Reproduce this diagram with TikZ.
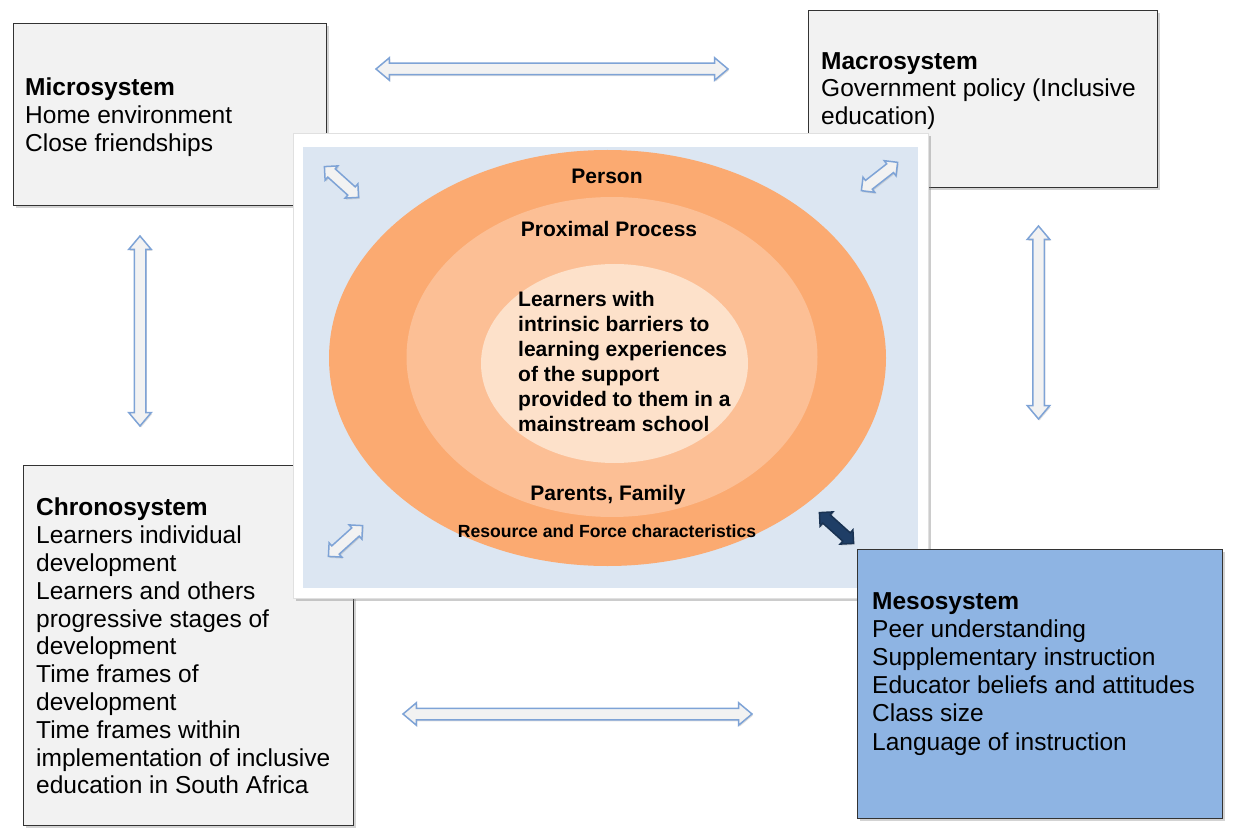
\documentclass[tikz,border=0pt]{standalone}
\usepackage{fontspec}
\setmainfont{Liberation Sans}
\usetikzlibrary{shapes.arrows,shapes.geometric,shadows}
\definecolor{boxgray}{HTML}{F2F2F2}
\definecolor{mesoblue}{HTML}{8EB4E3}
\definecolor{bgblue}{HTML}{DCE6F2}
\definecolor{orA}{HTML}{FBAA71}
\definecolor{orB}{HTML}{FCBF95}
\definecolor{orC}{HTML}{FDE1CA}
\definecolor{arrline}{HTML}{7EA3D6}
\definecolor{navy}{HTML}{1F3E66}
\begin{document}
\begin{tikzpicture}[x=1pt,y=-1pt,
  sysbox/.style={draw=black!80, line width=1.2pt, fill=boxgray, anchor=north west, inner sep=0pt,
     drop shadow={shadow xshift=2pt, shadow yshift=-2pt, opacity=0.35}},
  boxtext/.style={anchor=north west, align=left, inner sep=0pt,
     font=\fontsize{24.5}{27.8}\selectfont},
  ctext/.style={anchor=base, inner sep=0pt, font=\fontsize{21}{25}\selectfont\bfseries},
  dblarrow/.style={double arrow, draw=arrline, line width=1.5pt, fill=boxgray,
     inner xsep=0pt, inner ysep=5pt, double arrow head extend=5.5pt,
     minimum width=21pt, double arrow tip angle=80,
     drop shadow={shadow xshift=1pt, shadow yshift=-1.5pt, opacity=0.25}},
  smallarrow/.style={dblarrow, minimum height=46pt, inner ysep=4.8pt, double arrow head extend=4pt, minimum width=17.6pt, double arrow tip angle=90}
]
\useasboundingbox (0,0) rectangle (1243,829);

% outer system boxes
\node[sysbox, minimum width=313pt, minimum height=182pt] (micro) at (13,23) {};
\node[boxtext] (microtxt) at (25,78) {\textbf{Microsystem}\\Home environment\\Close friendships};

\node[sysbox, minimum width=349pt, minimum height=177pt] (macro) at (808,10) {};
\node[boxtext] (macrotxt) at (821,52) {\textbf{Macrosystem}\\Government policy (Inclusive\\education)};

\node[sysbox, minimum width=330pt, minimum height=360pt] (chrono) at (23,465) {};
\node[boxtext] (chronotxt) at (36,498) {\textbf{Chronosystem}\\Learners individual\\development\\Learners and others\\progressive stages of\\development\\Time frames of\\development\\Time frames within\\implementation of inclusive\\education in South Africa};

% central frame
\node[fill=white, draw=black!12, line width=0.8pt, anchor=north west, inner sep=0pt,
      minimum width=635pt, minimum height=465pt,
      drop shadow={shadow xshift=2.5pt, shadow yshift=-2.5pt, opacity=0.4}] (frame) at (293,133) {};
\node[fill=bgblue, anchor=north west, inner sep=0pt, minimum width=615pt, minimum height=441pt] (bg) at (303,147) {};

\node[ellipse, fill=orA, inner sep=0pt, minimum width=557pt, minimum height=416pt] (outer) at (607.5,358) {};
\node[ellipse, fill=orB, inner sep=0pt, minimum width=411pt, minimum height=320pt] (middle) at (612,357) {};
\node[ellipse, fill=orC, inner sep=0pt, minimum width=267pt, minimum height=199pt] (inner) at (614.5,363.5) {};

\node[ctext] (person) at (607,183.5) {Person};
\node[ctext] (proximal) at (609,236.5) {Proximal Process};
\node[ctext, anchor=north west, align=left] (learners) at (518,291) {Learners with\\intrinsic barriers to\\learning experiences\\of the support\\provided to them in a\\mainstream school};
\node[ctext] (parents) at (608,500.5) {Parents, Family};
\node[ctext, font=\fontsize{17.6}{20}\selectfont\bfseries] (resource) at (607,537) {Resource and Force characteristics};

% mesosystem (drawn over the frame)
\node[sysbox, fill=mesoblue, minimum width=365pt, minimum height=269pt] (meso) at (857,549) {};
\node[boxtext, font=\fontsize{24.5}{28.2}\selectfont] (mesotxt) at (872,592) {\textbf{Mesosystem}\\Peer understanding\\Supplementary instruction\\Educator beliefs and attitudes\\Class size\\Language of instruction};

% block arrows between systems
\node[dblarrow, minimum height=352pt] (atop) at (552,69) {};
\node[dblarrow, minimum height=349pt] (abot) at (577.5,714) {};
\node[dblarrow, minimum height=190pt, rotate=90] (aleft) at (140,331) {};
\node[dblarrow, minimum height=193pt, rotate=90] (aright) at (1038.5,322.5) {};

% small diagonal arrows in the frame
\node[smallarrow, rotate=-42] (dtl) at (341.5,182) {};
\node[smallarrow, rotate=38] (dtr) at (879.5,176.5) {};
\node[smallarrow, rotate=42] (dbl) at (345.5,541) {};
\node[smallarrow, rotate=-42, fill=navy, draw=navy!80!black] (dbr) at (836.5,528) {};
\end{tikzpicture}
\end{document}
